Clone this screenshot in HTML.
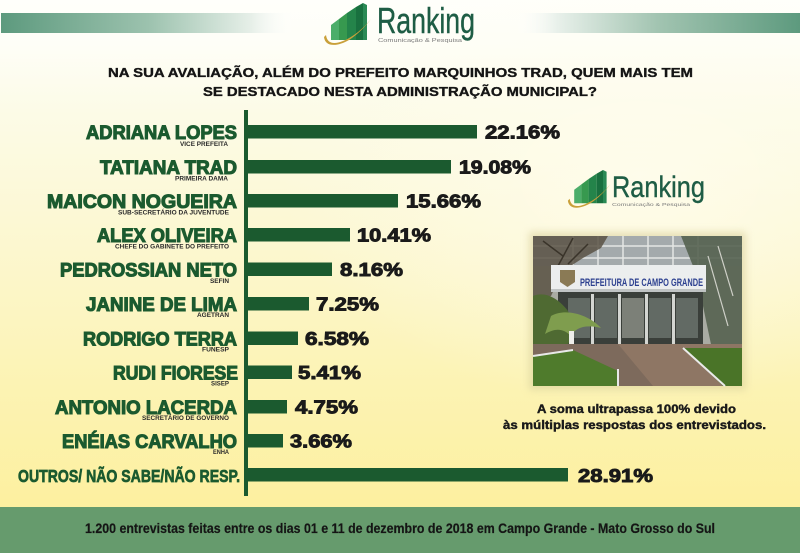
<!DOCTYPE html>
<html><head><meta charset="utf-8"><style>
html,body{margin:0;padding:0;width:800px;height:553px;overflow:hidden;background:#fdf6c4}
svg{display:block}
</style></head><body>
<svg width="800" height="553" viewBox="0 0 800 553" xmlns="http://www.w3.org/2000/svg">
<defs>
<linearGradient id="bg" x1="0" y1="0" x2="0" y2="1">
<stop offset="0" stop-color="#fffffb"/>
<stop offset="0.08" stop-color="#fefef7"/>
<stop offset="0.2" stop-color="#fcfbe7"/>
<stop offset="0.45" stop-color="#fcf7cf"/>
<stop offset="0.7" stop-color="#fcf3b3"/>
<stop offset="0.92" stop-color="#fdf09f"/>
</linearGradient>
<radialGradient id="glow" cx="0.8" cy="0.35" r="0.45">
<stop offset="0" stop-color="#fffdf0" stop-opacity="0.75"/>
<stop offset="1" stop-color="#fffdf0" stop-opacity="0"/>
</radialGradient>
<linearGradient id="bandL" x1="0" y1="0" x2="1" y2="0">
<stop offset="0" stop-color="#5d9a7e"/>
<stop offset="0.5" stop-color="#9cc2ae"/>
<stop offset="0.85" stop-color="#e6efe8"/>
<stop offset="1" stop-color="#ffffff" stop-opacity="0"/>
</linearGradient>
<linearGradient id="bandR" x1="0" y1="0" x2="1" y2="0">
<stop offset="0" stop-color="#ffffff" stop-opacity="0"/>
<stop offset="0.15" stop-color="#e8f0ea"/>
<stop offset="0.5" stop-color="#a2c4b1"/>
<stop offset="1" stop-color="#5d9a7e"/>
</linearGradient>
<filter id="sh" x="-20%" y="-20%" width="140%" height="140%">
<feGaussianBlur stdDeviation="4"/>
</filter>
<g id="icon">
<path d="M8,22 L16,16 L16,37 L8,37 Z" fill="#4cae6a"/>
<path d="M16,16 L24,10 L24,37 L16,37 Z" fill="#37994f"/>
<path d="M24,10 L33,4 L33,37 L24,37 Z" fill="#24844a"/>
<path d="M33,4 L40,0 L40,37 L33,37 Z" fill="#19703f"/>
<path d="M40,0 L44,2 L44,37 L40,37 Z" fill="#2a8a55"/>
<path d="M1,34 C2,44 14,44 26,37 C34,32 42,24 48,16 C40,26 30,34 20,38 C10,42 4,40 3,32 Z" fill="#c9a03a"/>
</g>
</defs>
<rect width="800" height="553" fill="url(#bg)"/>
<rect width="800" height="507" fill="url(#glow)"/>
<!-- top bands -->
<rect x="1" y="13" width="294" height="20" fill="url(#bandL)"/>
<rect x="515" y="13" width="285" height="20" fill="url(#bandR)"/>
<!-- top logo -->
<use href="#icon" transform="translate(323,3)"/>
<text x="377" y="33" font-family="Liberation Sans Narrow, Liberation Sans, sans-serif" font-size="36" fill="#1e5d45" stroke="#1e5d45" stroke-width="0.4" textLength="98" lengthAdjust="spacingAndGlyphs">Ranking</text>
<text x="378" y="42" font-family="Liberation Sans, sans-serif" font-size="5" fill="#7a7a7a" textLength="84" lengthAdjust="spacingAndGlyphs">Comunicação &amp; Pesquisa</text>
<!-- title -->
<g font-family="Liberation Sans, sans-serif" font-weight="bold" font-size="12.5" fill="#151515" stroke="#151515" stroke-width="0.35">
<text x="108" y="77" textLength="585" lengthAdjust="spacingAndGlyphs">NA SUA AVALIAÇÃO, ALÉM DO PREFEITO MARQUINHOS TRAD, QUEM MAIS TEM</text>
<text x="203" y="96" textLength="394" lengthAdjust="spacingAndGlyphs">SE DESTACADO NESTA ADMINISTRAÇÃO MUNICIPAL?</text>
</g>
<!-- axis -->
<rect x="244" y="110" width="4" height="386" fill="#1b5a2f"/>
<!-- bars -->
<g fill="#1b5a2f">
<rect x="248" y="125" width="229" height="13.5"/>
<rect x="248" y="160" width="203" height="13.5"/>
<rect x="248" y="194" width="150" height="13.5"/>
<rect x="248" y="228" width="102" height="13.5"/>
<rect x="248" y="262.5" width="84" height="13.5"/>
<rect x="248" y="297" width="61" height="13.5"/>
<rect x="248" y="331.5" width="50" height="13.5"/>
<rect x="248" y="365.5" width="44" height="13.5"/>
<rect x="248" y="400" width="39" height="13.5"/>
<rect x="248" y="434" width="35" height="13.5"/>
<rect x="248" y="468" width="320" height="13.5"/>
</g>
<!-- percentages -->
<g font-family="Liberation Sans, sans-serif" font-weight="bold" font-size="18" fill="#1a1a1a" stroke="#1a1a1a" stroke-width="0.9">
<text x="485" y="138.5" textLength="75" lengthAdjust="spacingAndGlyphs">22.16%</text>
<text x="459" y="173.5" textLength="72" lengthAdjust="spacingAndGlyphs">19.08%</text>
<text x="406" y="207.5" textLength="75" lengthAdjust="spacingAndGlyphs">15.66%</text>
<text x="357" y="241.5" textLength="74" lengthAdjust="spacingAndGlyphs">10.41%</text>
<text x="340" y="276" textLength="63" lengthAdjust="spacingAndGlyphs">8.16%</text>
<text x="316" y="310.5" textLength="63" lengthAdjust="spacingAndGlyphs">7.25%</text>
<text x="305" y="345" textLength="64" lengthAdjust="spacingAndGlyphs">6.58%</text>
<text x="298" y="379" textLength="63" lengthAdjust="spacingAndGlyphs">5.41%</text>
<text x="295" y="413.5" textLength="63" lengthAdjust="spacingAndGlyphs">4.75%</text>
<text x="290" y="447.5" textLength="62" lengthAdjust="spacingAndGlyphs">3.66%</text>
<text x="578" y="482" textLength="75" lengthAdjust="spacingAndGlyphs">28.91%</text>
</g>
<!-- names -->
<g font-family="Liberation Sans, sans-serif" font-weight="bold" font-size="19.5" fill="#1b5a2f" stroke="#1b5a2f" stroke-width="1.1">
<text x="86" y="139" textLength="151" lengthAdjust="spacingAndGlyphs">ADRIANA LOPES</text>
<text x="100" y="174" textLength="137" lengthAdjust="spacingAndGlyphs">TATIANA TRAD</text>
<text x="47" y="208" textLength="190" lengthAdjust="spacingAndGlyphs">MAICON NOGUEIRA</text>
<text x="97" y="242" textLength="140" lengthAdjust="spacingAndGlyphs">ALEX OLIVEIRA</text>
<text x="60" y="276.5" textLength="177" lengthAdjust="spacingAndGlyphs">PEDROSSIAN NETO</text>
<text x="86" y="311" textLength="151" lengthAdjust="spacingAndGlyphs">JANINE DE LIMA</text>
<text x="83" y="345.5" textLength="154" lengthAdjust="spacingAndGlyphs">RODRIGO TERRA</text>
<text x="113" y="379.5" textLength="125" lengthAdjust="spacingAndGlyphs">RUDI FIORESE</text>
<text x="55" y="414" textLength="182" lengthAdjust="spacingAndGlyphs">ANTONIO LACERDA</text>
<text x="62" y="448" textLength="175" lengthAdjust="spacingAndGlyphs">ENÉIAS CARVALHO</text>
</g>
<text x="18" y="482" font-family="Liberation Sans Narrow, Liberation Sans, sans-serif" font-weight="bold" font-size="17.5" fill="#1b5a2f" stroke="#1b5a2f" stroke-width="0.7" textLength="222" lengthAdjust="spacingAndGlyphs">OUTROS/ NÃO SABE/NÃO RESP.</text>
<!-- subtitles -->
<g font-family="Liberation Sans, sans-serif" font-weight="bold" font-size="6.5" fill="#2a2a2a">
<text x="180" y="146" textLength="48" lengthAdjust="spacingAndGlyphs">VICE PREFEITA</text>
<text x="175" y="180.5" textLength="53" lengthAdjust="spacingAndGlyphs">PRIMEIRA DAMA</text>
<text x="118" y="214.5" textLength="111" lengthAdjust="spacingAndGlyphs">SUB-SECRETÁRIO DA JUVENTUDE</text>
<text x="115" y="248.5" textLength="114" lengthAdjust="spacingAndGlyphs">CHEFE DO GABINETE DO PREFEITO</text>
<text x="210" y="283" textLength="19" lengthAdjust="spacingAndGlyphs">SEFIN</text>
<text x="197" y="317" textLength="32" lengthAdjust="spacingAndGlyphs">AGETRAN</text>
<text x="202" y="351.5" textLength="27" lengthAdjust="spacingAndGlyphs">FUNESP</text>
<text x="211" y="385.5" textLength="18" lengthAdjust="spacingAndGlyphs">SISEP</text>
<text x="142" y="420" textLength="87" lengthAdjust="spacingAndGlyphs">SECRETÁRIO DE GOVERNO</text>
<text x="213" y="454" textLength="16" lengthAdjust="spacingAndGlyphs">ENHA</text>
</g>
<!-- second logo -->
<use href="#icon" transform="translate(567,170) scale(0.9)"/>
<text x="612" y="197" font-family="Liberation Sans Narrow, Liberation Sans, sans-serif" font-size="30" fill="#1e5d45" stroke="#1e5d45" stroke-width="0.4" textLength="93" lengthAdjust="spacingAndGlyphs">Ranking</text>
<text x="612" y="206" font-family="Liberation Sans, sans-serif" font-size="4.8" fill="#7a7a7a" textLength="78" lengthAdjust="spacingAndGlyphs">Comunicação &amp; Pesquisa</text>
<!-- photo -->
<rect x="529" y="232" width="217" height="158" fill="#d8cf9a" opacity="0.6" filter="url(#sh)"/>
<g transform="translate(533,236)">
<rect width="209" height="150" fill="#a9aba3"/>
<!-- upper windows -->
<rect x="0" y="0" width="209" height="30" fill="#a4aaac"/>
<g stroke="#e4e6e4" stroke-width="1.5">
<line x1="40" y1="0" x2="40" y2="30"/><line x1="65" y1="0" x2="65" y2="30"/><line x1="90" y1="0" x2="90" y2="30"/>
<line x1="115" y1="0" x2="115" y2="30"/><line x1="140" y1="0" x2="140" y2="30"/><line x1="165" y1="0" x2="165" y2="30"/>
<line x1="0" y1="10" x2="209" y2="10"/><line x1="0" y1="22" x2="209" y2="22"/>
</g>
<path d="M0,0 L75,0 L68,12 L50,22 L30,35 L18,60 L0,70 Z" fill="#5a5244" opacity="0.85"/>
<path d="M10,5 L30,20 M40,2 L25,30 M55,8 L35,28" stroke="#3a342a" stroke-width="1.5"/>
<path d="M148,0 L209,0 L209,125 L180,118 L170,70 L160,30 Z" fill="#556250" opacity="0.9"/>
<path d="M175,20 L195,90 M185,10 L200,60" stroke="#cfd0c8" stroke-width="1.2"/>
<!-- sign band -->
<rect x="18" y="29" width="155" height="27" fill="#eceeee"/>
<rect x="18" y="53" width="155" height="3" fill="#c0c4c4"/>
<path d="M27,34 L42,34 L42,46 L34.5,51 L27,46 Z" fill="#8a7a55"/>
<text x="47" y="50" font-family="Liberation Sans Narrow, Liberation Sans, sans-serif" font-weight="bold" font-size="11" fill="#2b3f8f" textLength="123" lengthAdjust="spacingAndGlyphs">PREFEITURA DE CAMPO GRANDE</text>
<!-- entrance -->
<rect x="25" y="56" width="145" height="52" fill="#3a3f3a"/>
<g fill="#626a64">
<rect x="35" y="62" width="22" height="40"/><rect x="62" y="62" width="22" height="40"/>
<rect x="89" y="62" width="22" height="40" fill="#7c8078"/><rect x="116" y="62" width="22" height="40"/>
<rect x="143" y="62" width="22" height="40"/>
</g>
<g fill="#d4d6d2"><rect x="58" y="58" width="3" height="50"/><rect x="85" y="58" width="3" height="50"/><rect x="112" y="58" width="3" height="50"/><rect x="139" y="58" width="3" height="50"/></g>
<!-- left trees -->
<path d="M0,60 C12,55 25,62 35,75 C42,88 40,105 30,115 L0,120 Z" fill="#4f6a32"/>
<path d="M18,80 C32,72 55,78 68,92 C52,88 42,92 38,100 C30,92 22,92 12,98 Z" fill="#7f9d4e"/>
<rect x="36" y="95" width="5" height="45" fill="#eeeeea"/>
<!-- ground -->
<rect x="0" y="108" width="209" height="42" fill="#7d6a5c"/>
<path d="M85,108 L209,108 L209,150 L120,150 Z" fill="#8e7664"/>
<path d="M0,120 L40,114 L85,135 L85,150 L0,150 Z" fill="#4f7b2c"/>
<path d="M150,112 L209,112 L209,150 L190,150 Z" fill="#4a7428"/>
<path d="M150,112 L192,150" stroke="#eaeaea" stroke-width="2"/>
<path d="M0,120 L40,114" stroke="#e8e8e8" stroke-width="2"/>
<path d="M85,133 L85,150" stroke="#e8e8e8" stroke-width="2"/>
</g>
<!-- note -->
<g font-family="Liberation Sans, sans-serif" font-weight="bold" font-size="11.5" fill="#1a1a1a" stroke="#1a1a1a" stroke-width="0.4">
<text x="537" y="413" textLength="199" lengthAdjust="spacingAndGlyphs">A soma ultrapassa 100% devido</text>
<text x="503" y="429" textLength="263" lengthAdjust="spacingAndGlyphs">às múltiplas respostas dos entrevistados.</text>
</g>
<!-- footer -->
<rect x="0" y="507" width="800" height="46" fill="#669b6d"/>
<text x="85" y="533" font-family="Liberation Sans Narrow, Liberation Sans, sans-serif" font-weight="bold" font-size="14" fill="#151515" stroke="#151515" stroke-width="0.2" textLength="630" lengthAdjust="spacingAndGlyphs">1.200 entrevistas feitas entre os dias 01 e 11 de dezembro de 2018 em Campo Grande - Mato Grosso do Sul</text>
</svg>
</body></html>
